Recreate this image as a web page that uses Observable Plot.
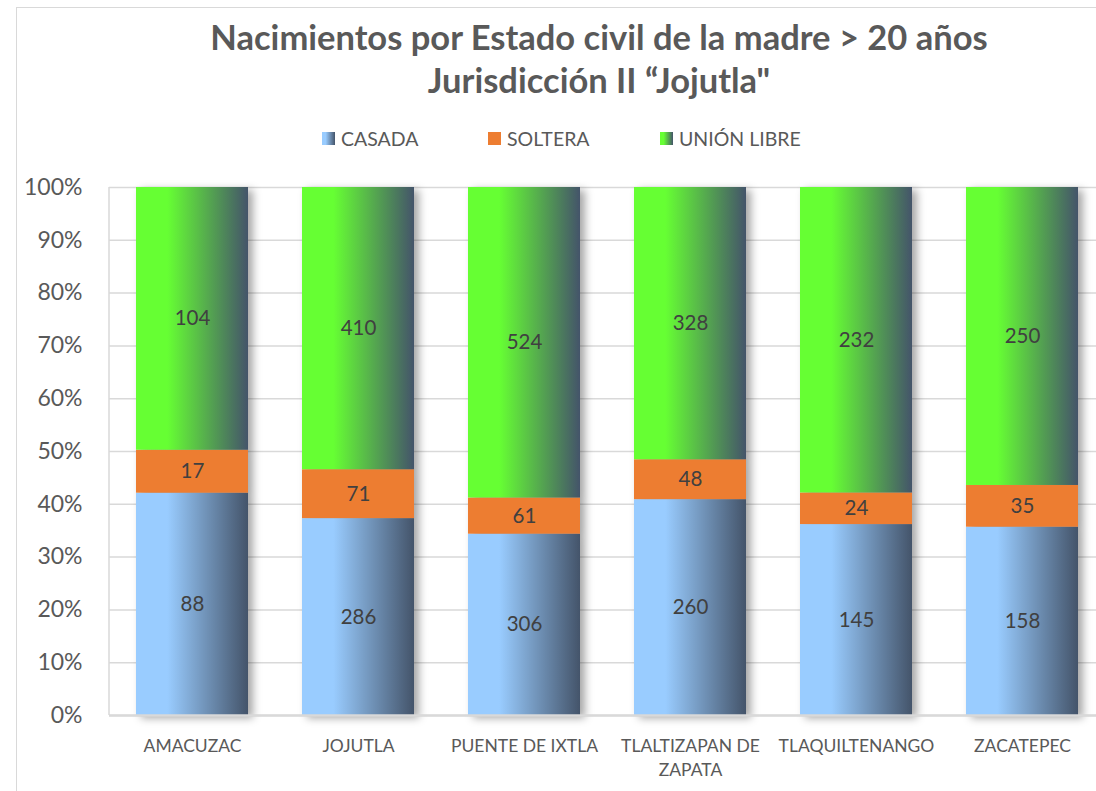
<!DOCTYPE html>
<html>
<head>
<meta charset="utf-8">
<script src="https://cdn.jsdelivr.net/npm/d3@7"></script>
<script src="https://cdn.jsdelivr.net/npm/@observablehq/plot@0.6"></script>
<style>
  html, body { margin: 0; padding: 0; background: #fff; overflow: hidden; }
  body { width: 1096px; height: 791px; position: relative; font-family: Lato, "Open Sans", sans-serif; color: #595959; }
  #frame { position: absolute; left: 16px; top: 7px; width: 1200px; height: 900px; border: 1.5px solid #d9d9d9; box-sizing: border-box; }
  .title { position: absolute; left: 0; width: 1198px; text-align: center; font-weight: bold; font-size: 34.5px; line-height: 40px; color: #595959; white-space: nowrap; }
  .leg { position: absolute; top: 127px; font-size: 19.5px; color: #595959; display: flex; align-items: center; white-space: nowrap; }
  .sw { width: 13px; height: 13px; margin-right: 6px; display: inline-block; }
  #chart { position: absolute; left: 0; top: 167px; }
</style>
</head>
<body>
<div id="frame"></div>
<div class="title" style="top:17px;" id="t1"></div>
<div class="title" style="top:60px;" id="t2"></div>
<div id="legend"></div>
<div id="chart"></div>
<script>
const titleLines = ["Nacimientos por Estado civil de la madre > 20 años", "Jurisdicción II “Jojutla\""];
const municipios = ["AMACUZAC", "JOJUTLA", "PUENTE DE IXTLA", "TLALTIZAPAN DE ZAPATA", "TLAQUILTENANGO", "ZACATEPEC"];
const tickLabels = ["AMACUZAC", "JOJUTLA", "PUENTE DE IXTLA", "TLALTIZAPAN DE\nZAPATA", "TLAQUILTENANGO", "ZACATEPEC"];
const estados = ["CASADA", "SOLTERA", "UNIÓN LIBRE"];
const casada = [88, 286, 306, 260, 145, 158];
const soltera = [17, 71, 61, 48, 24, 35];
const unionLibre = [104, 410, 524, 328, 232, 250];
const yTicks = [0, 0.1, 0.2, 0.3, 0.4, 0.5, 0.6, 0.7, 0.8, 0.9, 1];

const series = [casada, soltera, unionLibre];
const data = [];
municipios.forEach((m, i) => {
  estados.forEach((e, j) => data.push({municipio: m, estado: e, value: series[j][i]}));
});

document.getElementById("t1").textContent = titleLines[0];
document.getElementById("t2").textContent = titleLines[1];

const legendPos = [322, 488, 660];
const legendFill = [
  "linear-gradient(to right, #99CCFF 0%, #99CCFF 28%, #44546A 100%)",
  "#ED7D31",
  "linear-gradient(to right, #66FF33 0%, #66FF33 28%, #44546A 100%)"
];
const leg = document.getElementById("legend");
estados.forEach((e, j) => {
  const d = document.createElement("div");
  d.className = "leg";
  d.style.left = legendPos[j] + "px";
  d.innerHTML = `<span class="sw" style="background:${legendFill[j]}"></span><span>${e}</span>`;
  leg.appendChild(d);
});

const fills = ["url(#gCasada)", "#ED7D31", "url(#gUnion)"];
const stackOpts = {x: "municipio", y: "value", z: "estado", offset: "normalize"};

const plot = Plot.plot({
  width: 1096,
  height: 624,
  marginLeft: 109,
  marginRight: -10,
  marginTop: 20,
  marginBottom: 76,
  style: {fontFamily: "Lato, 'Open Sans', sans-serif", color: "#595959", background: "transparent", overflow: "visible"},
  x: {domain: municipios, paddingInner: 0.325, paddingOuter: 0.1625, label: null},
  y: {domain: [0, 1], label: null},
  color: {domain: estados, range: fills},
  marks: [
    Plot.ruleY(yTicks, {stroke: "#d9d9d9", strokeWidth: 1.5}),
    Plot.barY(data, Plot.stackY({...stackOpts, fill: "estado"})),
    Plot.text(data, Plot.stackY({...stackOpts, text: "value", fill: "#404040", fontSize: 20.5})),
    Plot.axisY({ticks: yTicks, tickFormat: d3.format(".0%"), tickSize: 0, tickPadding: 27, fontSize: 23, fill: "#595959", label: null}),
    Plot.axisX({tickSize: 0, tickPadding: 20, fontSize: 17.5, fill: "#595959", label: null, tickFormat: (d) => tickLabels[municipios.indexOf(d)], lineHeight: 1.35}),
    Plot.ruleY([0], {stroke: "#d9d9d9", strokeWidth: 2.5})
  ]
});

const svg = d3.select(plot);
const defs = svg.insert("defs", ":first-child");
[["gCasada", "#99CCFF"], ["gUnion", "#66FF33"]].forEach(([id, c]) => {
  const g = defs.append("linearGradient").attr("id", id).attr("x1", "0").attr("x2", "1").attr("y1", "0").attr("y2", "0");
  g.append("stop").attr("offset", "0").attr("stop-color", c);
  g.append("stop").attr("offset", "0.28").attr("stop-color", c);
  g.append("stop").attr("offset", "1").attr("stop-color", "#44546A");
});
const yScale = plot.scale("y");
svg.append("line")
  .attr("x1", 109).attr("x2", 109)
  .attr("y1", yScale.apply(1)).attr("y2", yScale.apply(0))
  .attr("stroke", "#d9d9d9").attr("stroke-width", 1.5);
svg.selectAll("g[aria-label='bar']").style("filter", "drop-shadow(5px 3px 4px rgba(0,0,0,0.35))");

document.getElementById("chart").appendChild(plot);
</script>
</body>
</html>
